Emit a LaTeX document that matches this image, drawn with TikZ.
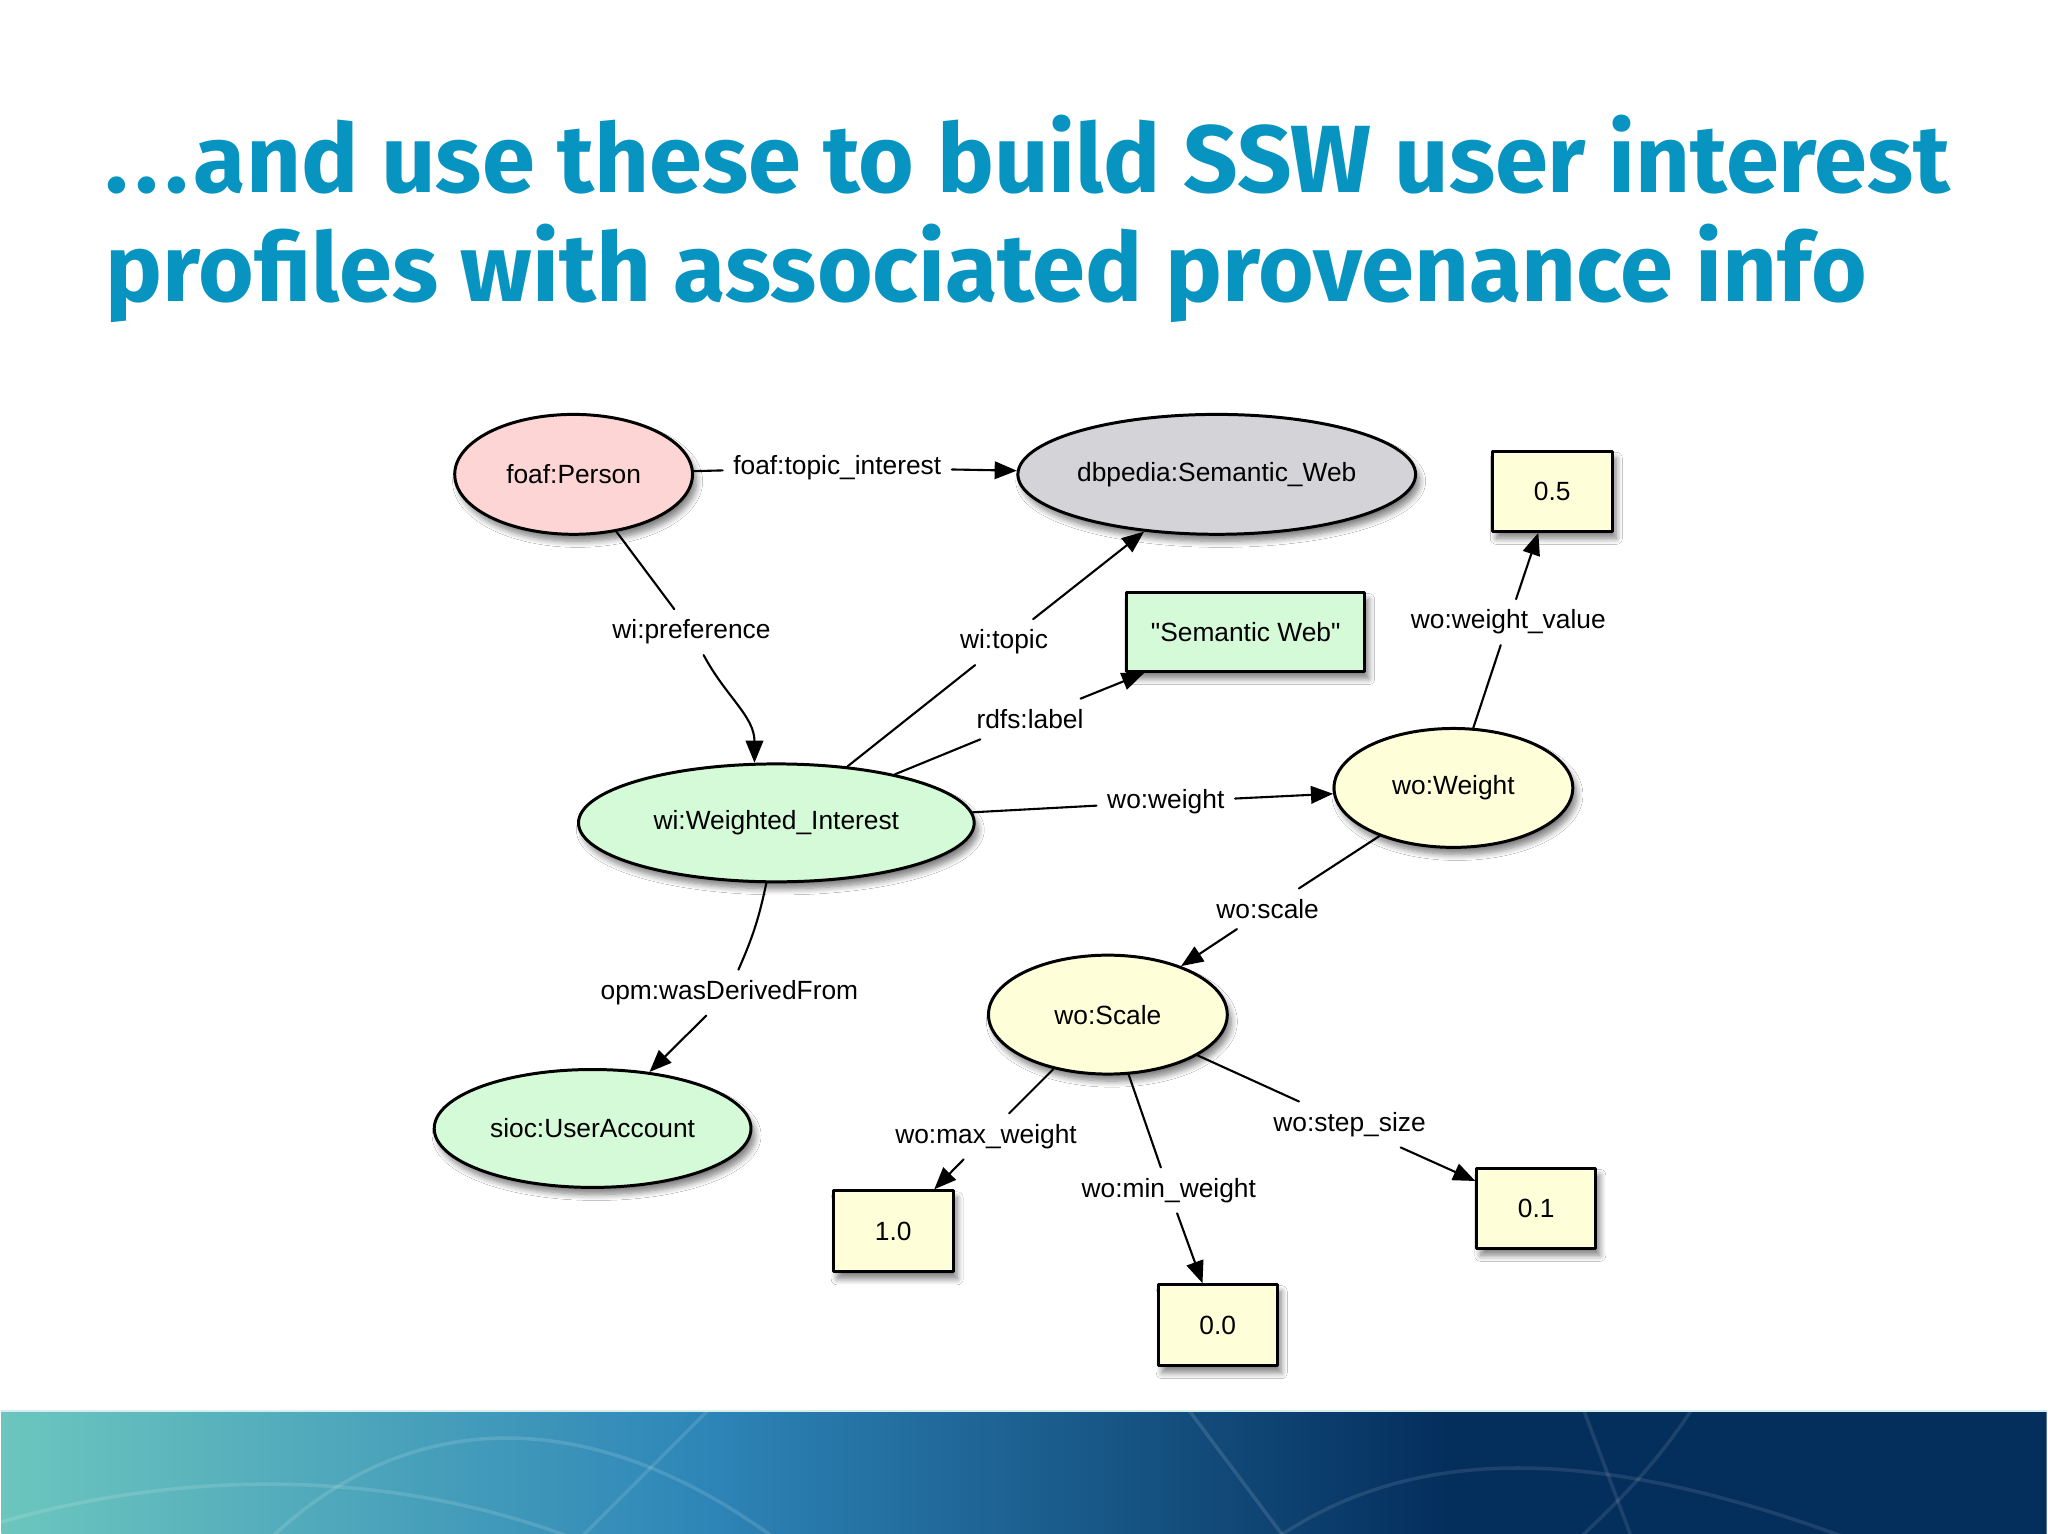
\documentclass[tikz,border=0pt]{standalone}
\usepackage{fontspec}
\newfontfamily\labelfont{Liberation Sans}
\newfontfamily\titlefont{Fira Sans}
\usetikzlibrary{arrows.meta,shapes.geometric,shadows.blur}
\definecolor{titleblue}{RGB}{8,148,192}
\definecolor{personpink}{RGB}{253,213,212}
\definecolor{dbpgrey}{RGB}{212,211,216}
\definecolor{wigreen}{RGB}{213,250,216}
\definecolor{woyellow}{RGB}{254,254,216}
\definecolor{bandteal}{RGB}{108,198,190}
\definecolor{bandblue}{RGB}{46,134,184}
\definecolor{bandnavy}{RGB}{4,46,92}

\begin{document}
\begin{tikzpicture}[x=0.01cm,y=0.01cm,>={Triangle[length=6.3pt,width=5pt]},line cap=round,line join=round,
  res/.style={ellipse,draw,line width=0.85pt,inner sep=0pt,font=\labelfont\fontsize{7.5}{9}\selectfont,
    blur shadow={shadow xshift=0.04cm,shadow yshift=-0.07cm,shadow blur steps=8,shadow opacity=50}},
  lit/.style={rectangle,draw,line width=0.85pt,inner sep=0pt,font=\labelfont\fontsize{7.5}{9}\selectfont,
    blur shadow={shadow xshift=0.04cm,shadow yshift=-0.07cm,shadow blur steps=8,shadow opacity=50}},
  prop/.style={inner sep=0.1cm,font=\labelfont\fontsize{7.5}{9}\selectfont},
  link/.style={line width=0.6pt},
  headline/.style={anchor=base west,inner sep=0pt,text=titleblue,font=\titlefont\bfseries\fontsize{27.2}{31}\selectfont}]
\fill[white] (0,0) rectangle (2048,-1536);
\begin{scope}
\clip (0,-1413) rectangle (2048,-1536);
\shade[left color=bandteal,right color=bandblue] (0,-1413) rectangle (701,-1536);
\shade[left color=bandblue,right color=bandnavy] (700,-1413) rectangle (1451,-1536);
\fill[bandnavy] (1450,-1413) rectangle (2048,-1536);
\draw[white,opacity=0.13,line width=1pt] (-50,-1540) .. controls (150,-1470) and (400,-1460) .. (620,-1560);
\draw[white,opacity=0.13,line width=1pt] (250,-1560) .. controls (400,-1400) and (600,-1400) .. (800,-1560);
\draw[white,opacity=0.10,line width=1pt] (1250,-1560) .. controls (1400,-1440) and (1600,-1440) .. (1900,-1560);
\draw[white,opacity=0.10,line width=1pt] (1700,-1400) .. controls (1650,-1480) and (1600,-1520) .. (1560,-1560);
\draw[white,opacity=0.12,line width=1pt] (1180,-1400) -- (1300,-1560);
\draw[white,opacity=0.12,line width=1pt] (720,-1400) -- (560,-1560);
\draw[white,opacity=0.10,line width=1pt] (1580,-1400) -- (1640,-1560);
\end{scope}
\draw[white!70!bandteal,line width=0.8pt] (0,-1413) -- (2048,-1413);

\node[headline] (title1) at (104,-193) {.\kern.07em.\kern.07em.\kern.06em and use these to build SSW user interest};
\node[headline] (title2) at (104,-302) {profiles with associated provenance info};

\node[res,fill=personpink,minimum width=2.38cm,minimum height=1.2cm] (person) at (573,-475) {foaf:Person};
\node[res,fill=dbpgrey,minimum width=3.98cm,minimum height=1.2cm] (dbp) at (1217,-475) {dbpedia:Semantic\_Web};
\node[lit,fill=woyellow,minimum width=1.2cm,minimum height=0.8cm] (val05) at (1553,-492) {0.5};
\node[lit,fill=wigreen,minimum width=2.38cm,minimum height=0.79cm] (swlit) at (1246,-633) {"Semantic Web"};
\node[res,fill=wigreen,minimum width=3.96cm,minimum height=1.18cm] (wi) at (776,-824) {wi:Weighted\_Interest};
\node[res,fill=woyellow,minimum width=2.39cm,minimum height=1.19cm] (weight) at (1454,-789) {wo:Weight};
\node[res,fill=woyellow,minimum width=2.39cm,minimum height=1.19cm] (scale) at (1108,-1016) {wo:Scale};
\node[res,fill=wigreen,minimum width=3.17cm,minimum height=1.18cm] (acct) at (592,-1130) {sioc:UserAccount};
\node[lit,fill=woyellow,minimum width=1.2cm,minimum height=0.81cm] (val10) at (893,-1233) {1.0};
\node[lit,fill=woyellow,minimum width=1.19cm,minimum height=0.81cm] (val00) at (1218,-1327) {0.0};
\node[lit,fill=woyellow,minimum width=1.19cm,minimum height=0.8cm] (val01) at (1537,-1210) {0.1};

\node[prop] (lblTopic) at (837,-468) {foaf:topic\_interest};
\node[prop] (lblPref) at (691,-633) {wi:preference};
\node[prop] (lblWiTopic) at (1004,-643) {wi:topic};
\node[prop] (lblRdfs) at (1030,-720) {rdfs:label};
\node[prop] (lblWeight) at (1166,-803) {wo:weight};
\node[prop] (lblValue) at (1509,-623) {wo:weight\_value};
\node[prop] (lblScale) at (1268,-910) {wo:scale};
\node[prop] (lblDerived) at (729,-994) {opm:wasDerivedFrom};
\node[prop] (lblMax) at (986,-1138) {wo:max\_weight};
\node[prop] (lblMin) at (1169,-1192) {wo:min\_weight};
\node[prop] (lblStep) at (1350,-1126) {wo:step\_size};

\draw[link] (person) -- (lblTopic);
\draw[link,->] (lblTopic) -- (dbp);
\draw[link] (person) -- (lblPref);
\draw[link,->] (lblPref) to[out=-62,in=90] (wi.110);
\draw[link] (wi) -- (lblWiTopic);
\draw[link,->] (lblWiTopic) -- (dbp);
\draw[link] (wi) -- (lblRdfs);
\draw[link,->] (lblRdfs) -- (swlit);
\draw[link] (wi) -- (lblWeight);
\draw[link,->] (lblWeight) -- (weight);
\draw[link] (weight) -- (lblValue);
\draw[link,->] (lblValue) -- (val05);
\draw[link] (weight) -- (lblScale);
\draw[link,->] (lblScale) -- (scale);
\draw[link] (wi) to[bend left=6] (lblDerived);
\draw[link,->] (lblDerived) -- (acct);
\draw[link] (scale) -- (lblMax);
\draw[link,->] (lblMax) -- (val10);
\draw[link] (scale) -- (lblMin);
\draw[link,->] (lblMin) -- (val00);
\draw[link] (scale) -- (lblStep);
\draw[link,->] (lblStep) -- (val01);
\end{tikzpicture}
\end{document}
